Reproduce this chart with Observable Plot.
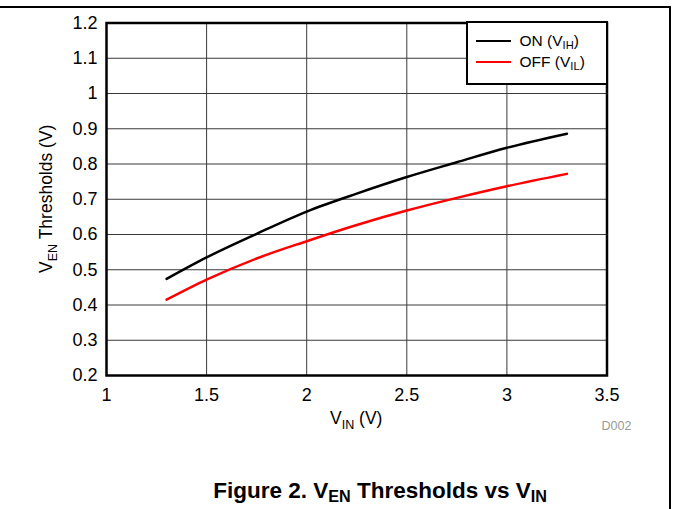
<!DOCTYPE html>
<html><head><meta charset="utf-8">
<script src="https://cdn.jsdelivr.net/npm/d3@7"></script>
<script src="https://cdn.jsdelivr.net/npm/@observablehq/plot@0.6"></script>
<style>
body{margin:0;background:#fff;font-family:"Liberation Sans",Arial,sans-serif;}
#wrap{position:relative;width:673px;height:509px;overflow:hidden;background:#fff;}
#border{position:absolute;left:0;top:6px;width:669px;height:520px;border-top:2px solid #000;border-right:2px solid #000;pointer-events:none;}
#legend{position:absolute;background:#fff;border:2.5px solid #000;box-sizing:border-box;font-size:15.5px;color:#000;}
#legend .row{position:absolute;left:8px;display:flex;align-items:center;white-space:nowrap;}
#legend .sw{display:inline-block;width:35px;height:2.5px;margin-right:9px;}
#legend sub,#title sub{font-size:0.72em;vertical-align:-0.25em;line-height:0;}
#title{position:absolute;top:479px;font-weight:bold;font-size:22.5px;line-height:1.1;white-space:nowrap;}
#code{position:absolute;font-size:12.5px;color:#999;}
</style></head><body><div id="wrap"></div>
<script>
const vin    = [1.3, 1.5, 1.75, 2.0, 2.25, 2.5, 2.75, 3.0, 3.3];
const onVIH  = [0.474, 0.535, 0.602, 0.665, 0.716, 0.763, 0.805, 0.846, 0.886];
const offVIL = [0.415, 0.472, 0.532, 0.581, 0.627, 0.668, 0.704, 0.737, 0.772];
const xTicks = [1, 1.5, 2, 2.5, 3, 3.5];
const yTicks = [0.2, 0.3, 0.4, 0.5, 0.6, 0.7, 0.8, 0.9, 1, 1.1, 1.2];
const seriesKeys = ["ON", "OFF"];
const seriesColors = ["#000000", "#ff0000"];
const legendLabels = [["ON (V", "IH", ")"], ["OFF (V", "IL", ")"]];

const data = vin.flatMap((v, i) => [
  {vin: v, vth: onVIH[i], s: seriesKeys[0]},
  {vin: v, vth: offVIL[i], s: seriesKeys[1]}
]);

const font = '"Liberation Sans", Arial, sans-serif';
const plot = Plot.plot({
  width: 673, height: 509,
  marginLeft: 106, marginRight: 66.5, marginTop: 22.5, marginBottom: 134,
  style: {fontFamily: font, fontSize: "18px", color: "#000", background: "#fff", overflow: "visible"},
  x: {domain: [1, 3.5], label: null},
  y: {domain: [0.2, 1.2], label: null},
  color: {domain: seriesKeys, range: seriesColors},
  marks: [
    Plot.gridX(xTicks, {stroke: "#3a3a3a", strokeOpacity: 1, strokeWidth: 1}),
    Plot.gridY(yTicks, {stroke: "#3a3a3a", strokeOpacity: 1, strokeWidth: 1}),
    Plot.axisX(xTicks, {tickSize: 0, tickPadding: 13, tickFormat: d => String(d), fontSize: 18, label: null}),
    Plot.axisY(yTicks, {tickSize: 0, tickPadding: 9, tickFormat: d => String(d), fontSize: 18, label: null}),
    Plot.line(data, {x: "vin", y: "vth", stroke: "s", z: "s", curve: "monotone-x", strokeWidth: 2.5}),
    Plot.frame({stroke: "#000", strokeWidth: 2.5})
  ]
});

const wrap = document.getElementById("wrap");
wrap.appendChild(plot);
const xs = plot.scale("x"), ys = plot.scale("y");
const svg = d3.select(plot);

// x axis label
const xl = svg.append("text")
  .attr("x", (xs.apply(1) + xs.apply(3.5)) / 2)
  .attr("y", ys.apply(0.2) + 49)
  .attr("text-anchor", "middle")
  .attr("font-family", font).attr("font-size", 17.5).attr("fill", "#000");
xl.append("tspan").text("V");
xl.append("tspan").attr("dy", 4.5).attr("font-size", 12.5).text("IN");
xl.append("tspan").attr("dy", -4.5).text(" (V)");

// y axis label
const ymid = (ys.apply(0.2) + ys.apply(1.2)) / 2;
const yl = svg.append("text")
  .attr("transform", `translate(${xs.apply(1) - 54},${ymid}) rotate(-90)`)
  .attr("text-anchor", "middle")
  .attr("font-family", font).attr("font-size", 17.5).attr("fill", "#000");
yl.append("tspan").text("V");
yl.append("tspan").attr("dy", 4.5).attr("font-size", 12.5).text("EN");
yl.append("tspan").attr("dy", -4.5).text(" Thresholds (V)");

// legend
const lg = document.createElement("div");
lg.id = "legend";
const lRight = xs.apply(3.5), lTop = ys.apply(1.2);
lg.style.left = (lRight - 141) + "px";
lg.style.top = (lTop - 1.5) + "px";
lg.style.width = "142px";
lg.style.height = "64px";
legendLabels.forEach((lab, i) => {
  const row = document.createElement("div");
  row.className = "row";
  row.style.top = (9 + i * 21) + "px";
  row.innerHTML = `<span class="sw" style="background:${seriesColors[i]}"></span><span>${lab[0]}<sub>${lab[1]}</sub>${lab[2]}</span>`;
  lg.appendChild(row);
});
wrap.appendChild(lg);

// figure code
const code = document.createElement("div");
code.id = "code";
code.textContent = "D002";
code.style.left = (lRight - 5) + "px";
code.style.top = (ys.apply(0.2) + 44) + "px";
wrap.appendChild(code);

// title
const title = document.createElement("div");
title.id = "title";
title.innerHTML = "Figure 2. V<sub>EN</sub> Thresholds vs V<sub>IN</sub>";
wrap.appendChild(title);
title.style.left = (xs.apply(2.37) - title.offsetWidth / 2) + "px";

const border = document.createElement("div");
border.id = "border";
wrap.appendChild(border);
</script>
</body></html>
